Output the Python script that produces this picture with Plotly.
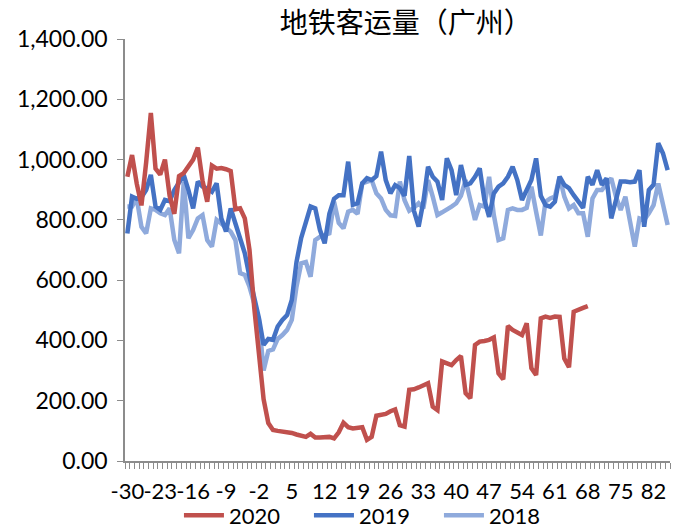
import plotly.graph_objects as go

# Days relative to the Spring Festival
days = list(range(-30, 86))
tick_days = [-30, -23, -16, -9, -2, 5, 12, 19, 26, 33, 40, 47, 54, 61, 68, 75, 82]

ridership_2020 = [
    943, 1015, 920, 848, 990, 1155, 970, 950, 1000, 880,
    820, 945, 955, 975, 1000, 1040, 930, 860, 980, 970,
    972, 968, 962, 835, 838, 805, 700, 510, 340, 205,
    126, 103, 100, 98, 96, 93, 88, 82, 80, 90,
    78, 78, 80, 80, 75, 95, 127, 112, 108, 110,
    112, 70, 80, 150, 152, 156, 165, 171, 119, 114,
    236, 238, 244, 250, 258, 180, 169, 330, 322, 318,
    335, 348, 225, 208, 385, 396, 398, 402, 410, 291,
    271, 448, 435, 425, 418, 457, 308, 285, 473, 479,
    475, 479, 478, 340, 311, 495, 500, 508, 514,
]

ridership_2019 = [
    755, 877, 870, 875, 899, 949, 844, 833, 866, 862,
    899, 927, 949, 899, 838, 927, 910, 904, 893, 921,
    805, 761, 838, 788, 744, 689, 611, 545, 475, 385,
    405, 402, 446, 468, 484, 534, 660, 740, 790, 844,
    838, 766, 722, 820, 870, 882, 882, 993, 850, 855,
    921, 938, 932, 945, 1026, 932, 888, 915, 905, 880,
    1012, 830, 778, 860, 976, 943, 927, 866, 1004, 965,
    882, 982, 916, 921, 943, 971, 866, 810, 888, 910,
    921, 943, 976, 932, 866, 899, 932, 1004, 880, 849,
    844, 860, 943, 916, 905, 882, 860, 840, 943, 916,
    965, 916, 938, 805, 866, 927, 927, 925, 927, 965,
    777, 899, 916, 1054, 1021, 965,
]

ridership_2018 = [
    844, 844, 871, 777, 755, 838, 833, 822, 816, 838,
    733, 689, 927, 739, 766, 805, 816, 733, 711, 800,
    788, 772, 761, 733, 623, 617, 578, 523, 468, 300,
    365, 370, 405, 418, 435, 468, 578, 656, 660, 611,
    733, 744, 750, 755, 860, 790, 772, 827, 833, 820,
    921, 928, 932, 888, 871, 833, 815, 813, 927, 865,
    830, 840, 855, 838, 932, 877, 816, 825, 833, 844,
    855, 880, 932, 860, 800, 849, 844, 943, 816, 733,
    739, 833, 838, 833, 833, 840, 910, 827, 748, 860,
    871, 877, 943, 877, 838, 849, 822, 822, 744, 871,
    899, 899, 916, 938, 877, 833, 877, 788, 711, 805,
    800, 822, 849, 921, 855, 783,
]

series = [
    ("2020", ridership_2020, "#C0504D"),
    ("2019", ridership_2019, "#4472C4"),
    ("2018", ridership_2018, "#8FAADC"),
]

fig = go.Figure()
# draw 2018 first so the darker years sit on top, keep legend order 2020/2019/2018
for rank, (name, values, color) in reversed(list(enumerate(series))):
    fig.add_trace(go.Scatter(
        x=days[:len(values)], y=values, name=name, mode="lines",
        line=dict(color=color, width=4.5),
        legendrank=rank,
    ))

axis_color = "#8C8C8C"
font_family = "Lato, 'Open Sans', sans-serif"

fig.update_layout(
    width=683, height=528,
    margin=dict(l=125, r=13, t=39, b=67, autoexpand=False),
    paper_bgcolor="white", plot_bgcolor="white",
    font=dict(family=font_family, size=22, color="#000000"),
    title=dict(
        text="地铁客运量（广州）",
        font=dict(family="'Noto Sans CJK SC', sans-serif", size=28, color="#000000"),
        x=0.594, xref="container", xanchor="center",
        y=0.957, yref="container", yanchor="middle",
    ),
    showlegend=True,
    legend=dict(
        orientation="h", traceorder="normal",
        x=0.262, xref="container", xanchor="left",
        y=0.024, yref="container", yanchor="middle",
        font=dict(size=22), itemwidth=40,
        entrywidth=75, entrywidthmode="pixels",
        bgcolor="rgba(0,0,0,0)",
    ),
)

fig.update_xaxes(
    range=[-30.5, 85.5], automargin=False,
    tickmode="array", tickvals=tick_days,
    ticktext=[str(d) for d in tick_days],
    tickangle=0, ticks="", showgrid=False, zeroline=False,
    showline=True, linecolor=axis_color, linewidth=1.5,
    minor=dict(ticks="outside", tick0=-30.5, dtick=1, ticklen=6,
               tickcolor=axis_color, tickwidth=1.2, showgrid=False),
    ticklabelstandoff=10,
    tickfont=dict(size=22),
)

fig.update_yaxes(
    range=[0, 1400], dtick=200, tick0=0, automargin=False,
    tickformat=",.2f",
    ticks="outside", ticklen=6, tickcolor=axis_color, tickwidth=1.2,
    showgrid=False, zeroline=False,
    showline=True, linecolor=axis_color, linewidth=1.5,
    ticklabelstandoff=5,
    tickfont=dict(size=23),
)

fig.write_html("out.html")
